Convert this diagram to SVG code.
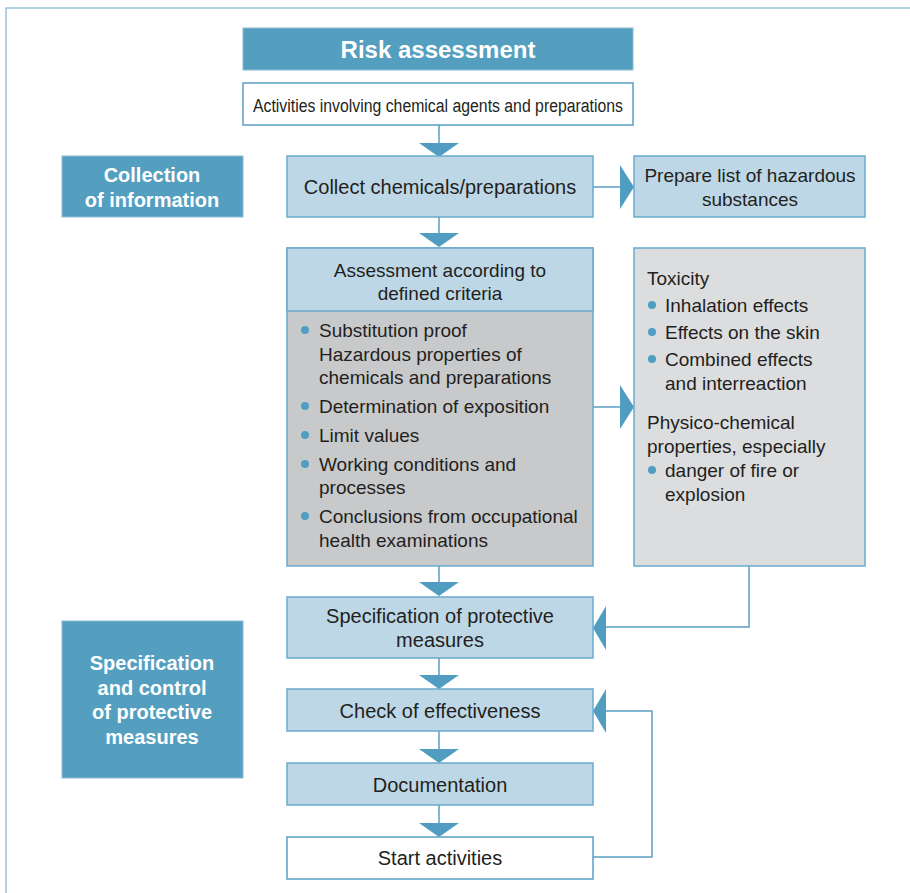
<svg xmlns="http://www.w3.org/2000/svg" width="910" height="893" viewBox="0 0 910 893">
<style>
text{font-family:"Liberation Sans",Arial,sans-serif;fill:#231f20;font-size:20px}
.c{text-anchor:middle}
.w{fill:#fff;font-weight:bold}
.b19{font-size:19px}
.head{fill:#549ec0;stroke:#8cbcd6;stroke-width:1}
.lb{fill:#bdd7e6;stroke:#6aaacb;stroke-width:1.5}
.wh{fill:#fff;stroke:#5a9fc4;stroke-width:1.5}
.g1{fill:#c8c9cb;stroke:#6aaacb;stroke-width:1.5}
.g2{fill:#dcdddf;stroke:#6aaacb;stroke-width:1.5}
.ln{fill:none;stroke:#5a9fc4;stroke-width:1.5}
.ar{fill:#519dc1}
.dot{fill:#4f9ec3}
</style>
<rect x="6" y="8" width="1000" height="1000" fill="none" stroke="#7fb5d0" stroke-width="1.2"/>

<g id="connectors">
  <path class="ln" d="M439 125V144M439 217V234M439 566V583M439 658V675M439 731V749M439 805V823"/>
  <path class="ar" d="M419 143H459L439 157ZM419 233H459L439 247ZM419 582H459L439 596ZM419 675H459L439 689ZM419 749H459L439 763ZM419 823H459L439 837Z"/>
  <path class="ln" d="M593 187H621M593 407H621"/>
  <path class="ar" d="M620 165L634 187L620 209ZM620 385L634 407L620 429Z"/>
  <path class="ln" d="M749 566V627H605"/>
  <path class="ar" d="M606 606L593 628L606 650Z"/>
  <path class="ln" d="M593 857H652V711H605"/>
  <path class="ar" d="M606 689L593 711L606 733Z"/>
</g>

<g id="risk-assessment">
  <rect class="head" x="243" y="28" width="390" height="42"/>
  <text class="c w" x="438" y="58" style="font-size:24px">Risk assessment</text>
</g>
<g id="activities">
  <rect class="wh" x="243" y="83" width="390" height="42"/>
  <text x="253" y="112" style="font-size:18px" textLength="370" lengthAdjust="spacingAndGlyphs">Activities involving chemical agents and preparations</text>
</g>
<g id="collection-label">
  <rect class="head" x="62" y="156" width="181" height="61"/>
  <text class="c w" x="152" y="182">Collection</text>
  <text class="c w" x="152" y="207">of information</text>
</g>
<g id="collect">
  <rect class="lb" x="287" y="156" width="306" height="61"/>
  <text class="c" x="440" y="194">Collect chemicals/preparations</text>
</g>
<g id="prepare-list">
  <rect class="lb" x="634" y="156" width="231" height="61"/>
  <text class="c b19" x="750" y="182">Prepare list of hazardous</text>
  <text class="c b19" x="750" y="206">substances</text>
</g>
<g id="assessment">
  <rect class="g1" x="287" y="248" width="306" height="318"/>
  <rect class="lb" x="287" y="248" width="306" height="63"/>
  <text class="c b19" x="440" y="277">Assessment according to</text>
  <text class="c b19" x="440" y="300">defined criteria</text>
  <g class="b19">
    <circle class="dot" cx="305" cy="330" r="4"/>
    <text class="b19" x="319" y="337">Substitution proof</text>
    <text class="b19" x="319" y="361">Hazardous properties of</text>
    <text class="b19" x="319" y="384">chemicals and preparations</text>
    <circle class="dot" cx="305" cy="406" r="4"/>
    <text class="b19" x="319" y="413">Determination of exposition</text>
    <circle class="dot" cx="305" cy="435" r="4"/>
    <text class="b19" x="319" y="442">Limit values</text>
    <circle class="dot" cx="305" cy="464" r="4"/>
    <text class="b19" x="319" y="471">Working conditions and</text>
    <text class="b19" x="319" y="494">processes</text>
    <circle class="dot" cx="305" cy="516" r="4"/>
    <text class="b19" x="319" y="523">Conclusions from occupational</text>
    <text class="b19" x="319" y="547">health examinations</text>
  </g>
</g>
<g id="toxicity">
  <rect class="g2" x="634" y="248" width="231" height="318"/>
  <text class="b19" x="647" y="285">Toxicity</text>
  <circle class="dot" cx="652" cy="305" r="4"/>
  <text class="b19" x="665" y="312">Inhalation effects</text>
  <circle class="dot" cx="652" cy="332" r="4"/>
  <text class="b19" x="665" y="339">Effects on the skin</text>
  <circle class="dot" cx="652" cy="359" r="4"/>
  <text class="b19" x="665" y="366">Combined effects</text>
  <text class="b19" x="665" y="390">and interreaction</text>
  <text class="b19" x="647" y="429">Physico-chemical</text>
  <text class="b19" x="647" y="453">properties, especially</text>
  <circle class="dot" cx="652" cy="470" r="4"/>
  <text class="b19" x="665" y="477">danger of fire or</text>
  <text class="b19" x="665" y="501">explosion</text>
</g>
<g id="spec-label">
  <rect class="head" x="62" y="621" width="181" height="157"/>
  <text class="c w" x="152" y="670">Specification</text>
  <text class="c w" x="152" y="695">and control</text>
  <text class="c w" x="152" y="719">of protective</text>
  <text class="c w" x="152" y="744">measures</text>
</g>
<g id="spec-measures">
  <rect class="lb" x="287" y="597" width="306" height="61"/>
  <text class="c" x="440" y="623">Specification of protective</text>
  <text class="c" x="440" y="647">measures</text>
</g>
<g id="check">
  <rect class="lb" x="287" y="689" width="306" height="42"/>
  <text class="c" x="440" y="718">Check of effectiveness</text>
</g>
<g id="documentation">
  <rect class="lb" x="287" y="763" width="306" height="42"/>
  <text class="c" x="440" y="792">Documentation</text>
</g>
<g id="start">
  <rect class="wh" x="287" y="837" width="306" height="42"/>
  <text class="c" x="440" y="865">Start activities</text>
</g>
</svg>
